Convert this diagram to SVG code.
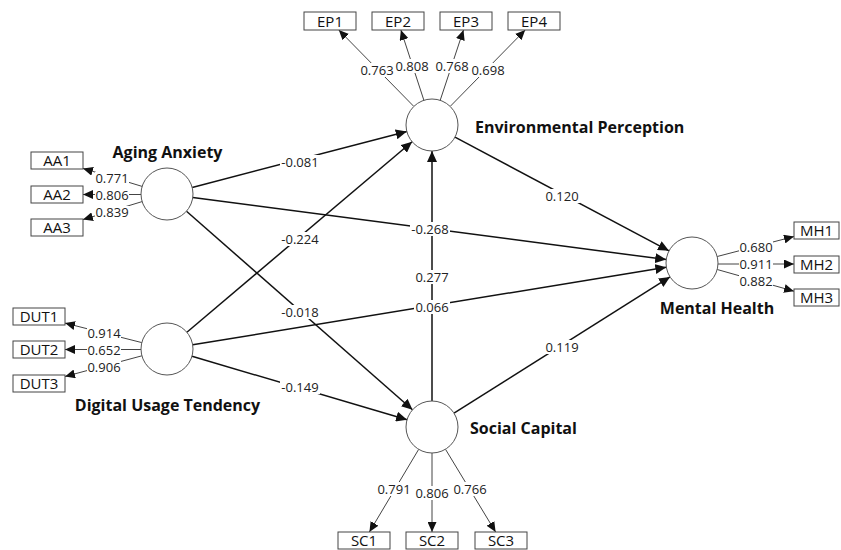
<svg xmlns="http://www.w3.org/2000/svg" width="841" height="550" viewBox="0 0 841 550">
<style>
.bg{fill:#fff}
.lv{fill:#fff;stroke:#555;stroke-width:1}
.ind{fill:#fff;stroke:#444;stroke-width:1}
.it{font-family:"Open Sans","Noto Sans",sans-serif;font-size:15px;fill:#111;text-anchor:middle}
.nm{font-family:"Open Sans","Noto Sans",sans-serif;font-size:16px;font-weight:bold;fill:#111}
.p{stroke:#111;stroke-width:1.5;fill:none;marker-end:url(#ah)}
.l{stroke:#444;stroke-width:1;fill:none;marker-end:url(#al)}
.gap{fill:#fff}
.lb{font-family:"Open Sans","Noto Sans",sans-serif;font-size:13px;fill:#222;text-anchor:middle}
</style>
<defs>
<marker id="ah" markerUnits="userSpaceOnUse" markerWidth="12" markerHeight="10" refX="11" refY="5" orient="auto"><path d="M0,0 L11,5 L0,10 Z" fill="#111"/></marker>
<marker id="al" markerUnits="userSpaceOnUse" markerWidth="11" markerHeight="9" refX="10" refY="4.5" orient="auto"><path d="M0,0 L10,4.5 L0,9 Z" fill="#111"/></marker>
</defs>
<rect class="bg" x="0" y="0" width="841" height="550"/>
<g id="connectors">
<line class="p" x1="192.2" y1="187.4" x2="406.8" y2="131.6"/>
<line class="p" x1="192.8" y1="197.4" x2="666.2" y2="259.6"/>
<line class="p" x1="186.5" y1="211.2" x2="412.5" y2="409.8"/>
<line class="p" x1="186.9" y1="332.2" x2="412.1" y2="141.8"/>
<line class="p" x1="192.7" y1="344.8" x2="666.3" y2="267.2"/>
<line class="p" x1="192.0" y1="356.3" x2="407.1" y2="419.7"/>
<line class="p" x1="432" y1="401" x2="432" y2="151"/>
<line class="p" x1="455.0" y1="137.2" x2="669.0" y2="250.8"/>
<line class="p" x1="454.0" y1="413.1" x2="670.0" y2="276.9"/>
<line class="l" x1="142.1" y1="186.4" x2="83" y2="168.4"/>
<line class="l" x1="141" y1="194.5" x2="83" y2="194.5"/>
<line class="l" x1="142.1" y1="201.6" x2="83" y2="219.6"/>
<line class="l" x1="141.8" y1="342.6" x2="65" y2="323.1"/>
<line class="l" x1="141" y1="349.5" x2="65" y2="349.5"/>
<line class="l" x1="141.9" y1="355.8" x2="65" y2="376.5"/>
<line class="l" x1="413.8" y1="106.4" x2="338.8" y2="30"/>
<line class="l" x1="423.9" y1="100.3" x2="400.9" y2="30"/>
<line class="l" x1="440.2" y1="100.3" x2="463.5" y2="30"/>
<line class="l" x1="450.2" y1="106.4" x2="525.2" y2="30"/>
<line class="l" x1="717.2" y1="256.5" x2="794" y2="236.5"/>
<line class="l" x1="718" y1="264" x2="794" y2="264"/>
<line class="l" x1="717.2" y1="269.5" x2="794" y2="291.2"/>
<line class="l" x1="418.7" y1="449.3" x2="369.4" y2="532"/>
<line class="l" x1="432" y1="453" x2="432" y2="532"/>
<line class="l" x1="445.5" y1="449.3" x2="495.6" y2="532"/>
<rect class="gap" x="280" y="155" width="40" height="14"/>
<rect class="gap" x="280" y="232" width="40" height="14"/>
<rect class="gap" x="280" y="305" width="40" height="14"/>
<rect class="gap" x="280" y="380" width="40" height="14"/>
<rect class="gap" x="410" y="222" width="40" height="14"/>
<rect class="gap" x="414" y="270" width="36" height="14"/>
<rect class="gap" x="414" y="300" width="36" height="14"/>
<rect class="gap" x="544" y="189" width="36" height="14"/>
<rect class="gap" x="544" y="340" width="36" height="14"/>
<rect class="gap" x="95" y="172" width="34" height="12"/>
<rect class="gap" x="95" y="189" width="34" height="12"/>
<rect class="gap" x="95" y="206" width="34" height="12"/>
<rect class="gap" x="87" y="327" width="34" height="12"/>
<rect class="gap" x="87" y="344" width="34" height="12"/>
<rect class="gap" x="87" y="361" width="34" height="12"/>
<rect class="gap" x="360" y="63" width="34" height="14"/>
<rect class="gap" x="395" y="59" width="34" height="14"/>
<rect class="gap" x="435" y="59" width="34" height="14"/>
<rect class="gap" x="471" y="63" width="34" height="14"/>
<rect class="gap" x="739" y="241" width="34" height="12"/>
<rect class="gap" x="739" y="258" width="34" height="12"/>
<rect class="gap" x="739" y="275" width="34" height="12"/>
<rect class="gap" x="377" y="482" width="34" height="14"/>
<rect class="gap" x="415" y="486" width="34" height="14"/>
<rect class="gap" x="453" y="482" width="34" height="14"/>
<text class="lb" x="300" y="166.5">-0.081</text>
<text class="lb" x="300" y="243.5">-0.224</text>
<text class="lb" x="300" y="316.5">-0.018</text>
<text class="lb" x="300" y="391.5">-0.149</text>
<text class="lb" x="430" y="233.5">-0.268</text>
<text class="lb" x="432" y="281.5">0.277</text>
<text class="lb" x="432" y="311.5">0.066</text>
<text class="lb" x="562" y="200.5">0.120</text>
<text class="lb" x="562" y="351.5">0.119</text>
<text class="lb" x="112" y="182.5">0.771</text>
<text class="lb" x="112" y="199.5">0.806</text>
<text class="lb" x="112" y="216.5">0.839</text>
<text class="lb" x="104" y="337.5">0.914</text>
<text class="lb" x="104" y="354.5">0.652</text>
<text class="lb" x="104" y="371.5">0.906</text>
<text class="lb" x="377" y="74.5">0.763</text>
<text class="lb" x="412" y="70.5">0.808</text>
<text class="lb" x="452" y="70.5">0.768</text>
<text class="lb" x="488" y="74.5">0.698</text>
<text class="lb" x="756" y="251.5">0.680</text>
<text class="lb" x="756" y="268.5">0.911</text>
<text class="lb" x="756" y="285.5">0.882</text>
<text class="lb" x="394" y="493.5">0.791</text>
<text class="lb" x="432" y="497.5">0.806</text>
<text class="lb" x="470" y="493.5">0.766</text>
</g>
<g id="AA">
<circle class="lv" cx="167" cy="194" r="26"/>
<text class="nm" x="167.5" y="158" text-anchor="middle">Aging Anxiety</text>
</g>
<g id="DUT">
<circle class="lv" cx="167" cy="349" r="26"/>
<text class="nm" x="167.5" y="411" text-anchor="middle">Digital Usage Tendency</text>
</g>
<g id="EP">
<circle class="lv" cx="432" cy="125" r="26"/>
<text class="nm" x="475" y="133">Environmental Perception</text>
</g>
<g id="SC">
<circle class="lv" cx="432" cy="427" r="26"/>
<text class="nm" x="470" y="434">Social Capital</text>
</g>
<g id="MH">
<circle class="lv" cx="692" cy="263" r="26"/>
<text class="nm" x="717" y="314" text-anchor="middle">Mental Health</text>
</g>
<g id="AA1"><rect class="ind" x="31" y="152" width="52" height="17"/><text class="it" x="57" y="166">AA1</text></g>
<g id="AA2"><rect class="ind" x="31" y="186" width="52" height="17"/><text class="it" x="57" y="200">AA2</text></g>
<g id="AA3"><rect class="ind" x="31" y="219" width="52" height="17"/><text class="it" x="57" y="233">AA3</text></g>
<g id="DUT1"><rect class="ind" x="13" y="308" width="52" height="17"/><text class="it" x="39" y="322">DUT1</text></g>
<g id="DUT2"><rect class="ind" x="13" y="341" width="52" height="17"/><text class="it" x="39" y="355">DUT2</text></g>
<g id="DUT3"><rect class="ind" x="13" y="375" width="52" height="17"/><text class="it" x="39" y="389">DUT3</text></g>
<g id="EP1"><rect class="ind" x="304" y="12" width="52" height="18"/><text class="it" x="330" y="26.5">EP1</text></g>
<g id="EP2"><rect class="ind" x="372" y="12" width="52" height="18"/><text class="it" x="398" y="26.5">EP2</text></g>
<g id="EP3"><rect class="ind" x="440" y="12" width="52" height="18"/><text class="it" x="466" y="26.5">EP3</text></g>
<g id="EP4"><rect class="ind" x="508" y="12" width="52" height="18"/><text class="it" x="534" y="26.5">EP4</text></g>
<g id="MH1"><rect class="ind" x="794" y="222" width="45" height="17"/><text class="it" x="816.5" y="236">MH1</text></g>
<g id="MH2"><rect class="ind" x="794" y="256" width="45" height="17"/><text class="it" x="816.5" y="270">MH2</text></g>
<g id="MH3"><rect class="ind" x="794" y="289" width="45" height="17"/><text class="it" x="816.5" y="303">MH3</text></g>
<g id="SC1"><rect class="ind" x="338" y="532" width="52" height="17"/><text class="it" x="364" y="546">SC1</text></g>
<g id="SC2"><rect class="ind" x="406" y="532" width="52" height="17"/><text class="it" x="432" y="546">SC2</text></g>
<g id="SC3"><rect class="ind" x="475" y="532" width="52" height="17"/><text class="it" x="501" y="546">SC3</text></g>
</svg>
